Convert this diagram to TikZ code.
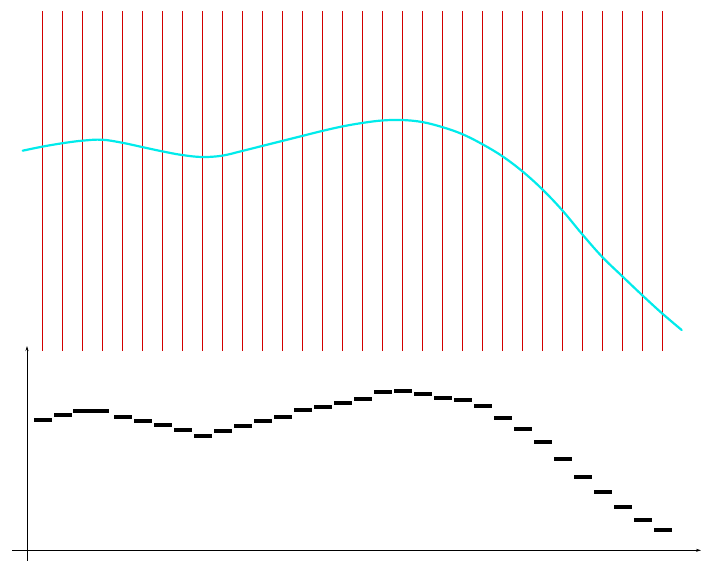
\documentclass[tikz,border=0pt]{standalone}
\usetikzlibrary{arrows.meta}
\definecolor{sigcyan}{RGB}{0,235,235}
\definecolor{samplered}{RGB}{210,0,0}
\begin{document}
\begin{tikzpicture}[x=1pt,y=-1pt,
  sampleline/.style={samplered, line width=0.8pt},
  signal/.style={sigcyan, line width=2.2pt, line cap=round},
  axis/.style={black, line width=1pt, -{Stealth[length=5pt,width=3pt]}},
  held/.style={black, line width=3.8pt}]
\useasboundingbox (0,0) rectangle (713,573);
% sampling instants
\foreach \i in {0,...,31}{
  \draw[sampleline] ({42+20*\i},11) -- ({42+20*\i},351);
}
% continuous signal
\draw[signal] plot[smooth, tension=0.6] coordinates {
 (22.7,150.7) (42,146.7) (62,143.3) (82,140.7) (102,139.7) (122,142.7)
 (142,147) (162,151.3) (182,155) (202,157) (222,155.7) (242,151)
 (262,146) (282,141) (302,136) (322,131) (342,126.5) (362,123)
 (382,120.5) (402,120) (422,122) (442,127) (462,134) (482,144)
 (502,156) (522,171) (542,189) (562,210) (582,234) (602,256.7)
 (622,276) (642,295) (662,313.3) (681.7,330)};
% axes
\coordinate (ybot) at (27,560.7);
\coordinate (ytop) at (27,346);
\coordinate (xleft) at (12,550.3);
\coordinate (xright) at (701,550.3);
\draw[axis] (ybot) -- (ytop);
\draw[axis] (xleft) -- (xright);
% sample-and-hold levels
\foreach \i/\y in {0/420.3,1/415,4/417.3,5/421.3,6/425,7/430.3,
  8/436.3,9/431.3,10/426.3,11/421.3,12/417.3,13/410.3,14/407.3,15/403.3,
  16/399.3,17/392.3,18/391.3,19/394.3,20/398.3,21/400.3,22/406.3,23/418.3,
  24/429.3,25/442.3,26/459.3,27/477.3,28/492.3,29/507.3,30/520.3,31/530.3}{
  \draw[held] ({42+20*\i-8},\y) -- ({42+20*\i+10},\y);
}
\draw[held] (73,411.3) -- (109,411.3);
\end{tikzpicture}
\end{document}
